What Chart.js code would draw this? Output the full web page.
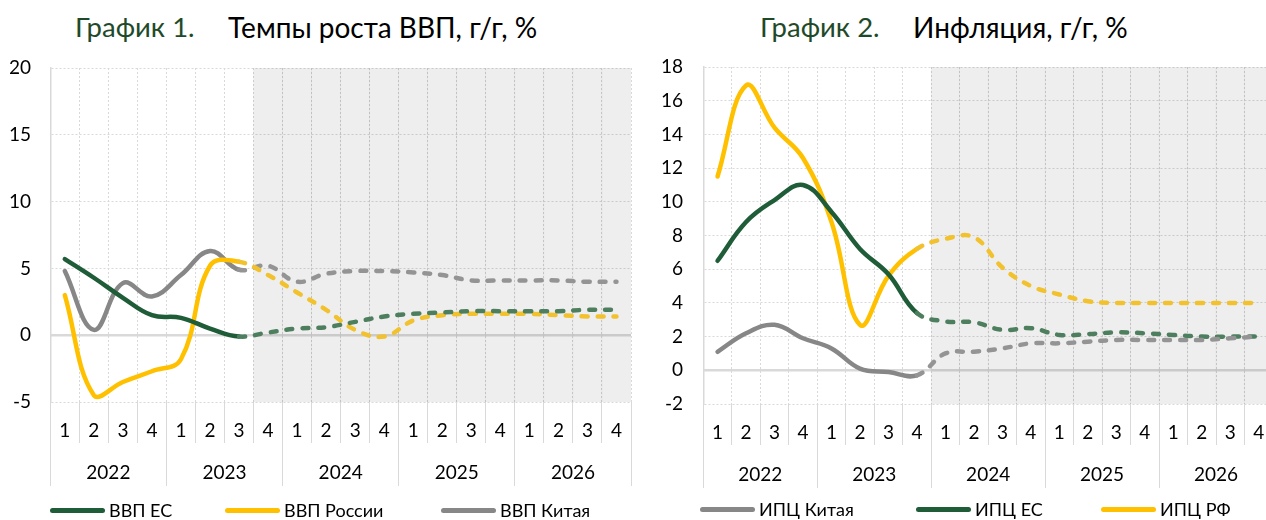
<!DOCTYPE html>
<html lang="ru">
<head>
<meta charset="utf-8">
<script src="https://cdn.jsdelivr.net/npm/chart.js@4.4.1/dist/chart.umd.min.js"></script>
<style>
  html, body { margin: 0; padding: 0; background: #fff; }
  body { width: 1266px; height: 520px; overflow: hidden; position: relative; font-family: Lato, "Noto Sans", sans-serif; color: #000; }
  .t { position: absolute; top: 10px; font-size: 28px; white-space: nowrap; line-height: 34px; }
  .t.num { color: #1f4a2a; font-size: 27.5px; }
  .box { position: absolute; top: 0; width: 640px; height: 500px; }
  .item { position: absolute; top: 499px; display: flex; align-items: center; font-size: 18px; line-height: 22px; white-space: nowrap; }
  .item i { display: inline-block; width: 55px; height: 5px; border-radius: 3px; margin-right: 4px; }
</style>
</head>
<body>
<div class="t num" style="left:75px">График 1.</div>
<div class="t" style="left:228px">Темпы роста ВВП, г/г, %</div>
<div class="t num" style="left:760px">График 2.</div>
<div class="t" style="left:913px">Инфляция, г/г, %</div>

<div class="box" style="left:0"><canvas id="gdp"></canvas></div>
<div class="box" style="left:640px"><canvas id="cpi"></canvas></div>

<div class="item" style="left:50px"><i style="background:#1f5c38"></i>ВВП ЕС</div>
<div class="item" style="left:225px"><i style="background:#ffc000"></i>ВВП России</div>
<div class="item" style="left:441px"><i style="background:#878787"></i>ВВП Китая</div>
<div class="item" style="left:700px;top:498px"><i style="background:#878787"></i>ИПЦ Китая</div>
<div class="item" style="left:916px;top:498px"><i style="background:#1f5c38"></i>ИПЦ ЕС</div>
<div class="item" style="left:1101px;top:498px"><i style="background:#ffc000"></i>ИПЦ РФ</div>

<script>
// кварталы 2022-2026
const quarters = ['1','2','3','4','1','2','3','4','1','2','3','4','1','2','3','4','1','2','3','4'];
const years = ['2022','2023','2024','2025','2026'];

// График 1: ВВП, г/г, %
const gdpEU = [5.7, 4.3, 2.8, 1.5, 1.3, 0.5, -0.1, 0.2, 0.5, 0.6, 1.0, 1.4, 1.6, 1.7, 1.8, 1.8, 1.8, 1.8, 1.9, 1.9];
const gdpRU = [3.0, -4.5, -3.5, -2.7, -1.8, 5.2, 5.5, 4.5, 3.2, 1.9, 0.4, -0.1, 1.1, 1.5, 1.6, 1.6, 1.6, 1.5, 1.4, 1.4];
const gdpCN = [4.8, 0.4, 3.9, 2.9, 4.5, 6.3, 4.9, 5.2, 4.0, 4.6, 4.8, 4.8, 4.7, 4.5, 4.1, 4.1, 4.1, 4.1, 4.0, 4.0];
const gdpRange = [-5, 20];
const gdpLastFact = 6;      // 2023 Q3

// График 2: инфляция, г/г, %
const cpiCN = [1.1, 2.2, 2.7, 1.9, 1.3, 0.1, -0.1, -0.3, 1.0, 1.1, 1.3, 1.6, 1.6, 1.7, 1.8, 1.8, 1.8, 1.8, 1.9, 2.0];
const cpiEU = [6.5, 8.8, 10.1, 11.0, 9.4, 7.2, 5.7, 3.4, 2.9, 2.85, 2.4, 2.5, 2.1, 2.15, 2.25, 2.2, 2.1, 2.0, 2.0, 2.0];
const cpiRU = [11.5, 16.9, 14.4, 12.6, 8.8, 2.7, 5.6, 7.2, 7.8, 7.9, 6.1, 5.0, 4.5, 4.1, 4.0, 4.0, 4.0, 4.0, 4.0, 4.0];
const cpiRange = [-2, 18];
const cpiLastFact = 7;      // 2023 Q4

const GREEN = '#1f5c38', GREEN_F = '#4d7f5e';
const YELLOW = '#ffc000', YELLOW_F = '#f2c12e';
const GREY = '#878787', GREY_F = '#949494';
const GRID = '#d9d9d9';

Chart.defaults.font.family = 'Lato, "Noto Sans", sans-serif';
Chart.defaults.color = '#000';

function line(data, solid, dashed, cut) {
  return {
    type: 'line', data, borderColor: solid, borderWidth: 4.5, pointRadius: 0, tension: 0.4,
    borderCapStyle: 'round', borderJoinStyle: 'round', order: 1,
    segment: {
      borderColor: c => c.p0DataIndex >= cut ? dashed : undefined,
      borderDash: c => c.p0DataIndex >= cut ? [6, 10] : undefined
    }
  };
}

function shade(cut, range) {
  return {
    type: 'bar', data: quarters.map((_, i) => i > cut ? range : null),
    backgroundColor: 'rgba(0,0,0,0.068)', borderWidth: 0,
    barPercentage: 1, categoryPercentage: 1, order: 5
  };
}

const zeroLine = {
  id: 'zeroLine',
  beforeDatasetsDraw(chart) {
    const { ctx, chartArea: a, scales: { y } } = chart;
    const py = y.getPixelForValue(0);
    ctx.save();
    ctx.strokeStyle = GRID; ctx.lineWidth = 2.5;
    ctx.beginPath(); ctx.moveTo(a.left, py); ctx.lineTo(a.right, py); ctx.stroke();
    ctx.restore();
  }
};

// размеры осей задаются вручную через afterFit (отрицательный padding у подписей)
function scales(range, step, yWidth, yPad) {
  return {
    x: {
      type: 'category', labels: quarters, offset: true, weight: 0,
      grid: { offset: true, color: GRID, tickLength: 41, tickColor: GRID, tickBorderDash: [] },
      border: { display: false, dash: [2, 2] },
      ticks: { padding: -24, font: { size: 19 }, autoSkip: false, maxRotation: 0 },
      afterFit: s => { s.height = 40; }
    },
    x2: {
      type: 'category', labels: years, offset: true, weight: 1, position: 'bottom',
      grid: { offset: true, drawOnChartArea: false, color: GRID, tickLength: 44 },
      border: { display: false },
      ticks: { padding: -25, font: { size: 19 }, maxRotation: 0 },
      afterFit: s => { s.height = 46; }
    },
    y: {
      min: range[0], max: range[1],
      ticks: { stepSize: step, font: { size: 19 }, padding: yPad },
      grid: { color: GRID, drawTicks: false },
      border: { display: true, color: GRID, width: 1.5, dash: [2, 2] },
      afterFit: s => { s.width = yWidth; }
    }
  };
}

function make(id, datasets, sc, padding) {
  new Chart(document.getElementById(id), {
    data: { labels: quarters, datasets },
    options: {
      responsive: true, maintainAspectRatio: false, animation: false,
      layout: { padding },
      plugins: { legend: { display: false }, tooltip: { enabled: false } },
      scales: sc
    },
    plugins: [zeroLine]
  });
}

make('gdp', [
  line(gdpEU, GREEN, GREEN_F, gdpLastFact),
  line(gdpRU, YELLOW, YELLOW_F, gdpLastFact),
  line(gdpCN, GREY, GREY_F, gdpLastFact),
  shade(gdpLastFact, gdpRange)
], scales(gdpRange, 5, 40.3, 19.3), { left: 10, right: 9, top: 68, bottom: 12 });

make('cpi', [
  line(cpiCN, GREY, GREY_F, cpiLastFact),
  line(cpiEU, GREEN, GREEN_F, cpiLastFact),
  line(cpiRU, YELLOW, YELLOW_F, cpiLastFact),
  shade(cpiLastFact, cpiRange)
], scales(cpiRange, 2, 41.3, 20.3), { left: 22, right: 7, top: 67, bottom: 10 });
</script>
</body>
</html>
